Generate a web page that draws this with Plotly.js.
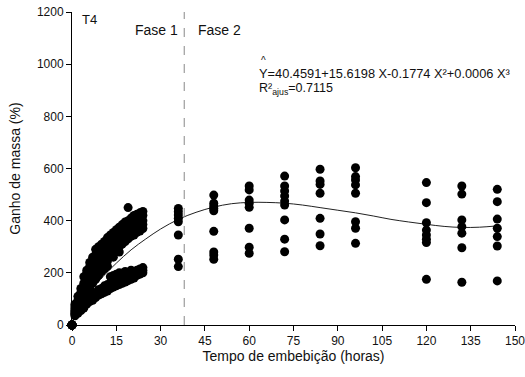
<!DOCTYPE html>
<html>
<head>
<meta charset="utf-8">
<script src="https://cdn.plot.ly/plotly-3.0.1.min.js"></script>
<style>html,body{margin:0;padding:0;background:#fff;}#chart{width:525px;height:377px;}</style>
</head>
<body>
<div id="chart"></div>
<script>
// Phase 1 observation times (hours) and gains (%), 8 readings per time
const phase1Times = [0,1,2,3,4,5,6,7,8,9,10,11,12,13,14,15,16,17,18,19,20,21,22,23,24];
const phase1Values = [
  [0,0,0,0,0,0,0,0],
  [45,62,70,55,80,35,40,50],
  [65,95,88,110,75,45,58,70],
  [100,125,90,140,115,55,70,85],
  [120,160,135,185,145,65,90,100],
  [155,200,175,140,210,80,95,115],
  [170,210,240,190,225,90,110,140],
  [200,260,215,245,180,95,120,160],
  [220,270,195,250,290,105,125,175],
  [210,265,300,240,285,115,135,190],
  [235,310,270,255,295,120,140,205],
  [250,320,290,265,305,125,150,215],
  [260,300,335,280,245,130,155,225],
  [270,345,310,290,325,140,160,185],
  [280,355,300,330,260,145,165,190],
  [290,365,320,340,305,150,170,195],
  [300,375,330,350,280,155,180,200],
  [310,385,355,340,370,160,185,170],
  [320,395,360,345,380,165,190,205],
  [330,450,370,400,355,170,195,185],
  [340,410,375,360,390,175,200,210],
  [345,420,385,365,400,180,205,195],
  [355,425,390,375,410,190,210,200],
  [360,430,395,380,415,195,215,205],
  [370,435,400,385,420,200,220,210]
];
// Phase 2 observation times and gains
const phase2Times = [36,48,60,72,84,96,120,132,144];
const phase2Values = [
  [447,434,422,409,396,345,252,224],
  [498,467,456,447,438,359,280,268,252],
  [533,518,479,467,451,371,298,275],
  [571,533,514,495,475,460,403,329,281],
  [597,552,539,505,409,349,304],
  [603,569,556,537,505,396,371,313],
  [546,469,392,364,345,329,316,175],
  [533,502,403,377,352,296,164],
  [520,473,406,371,339,303,169]
];
// Fitted curve
const fitX = [0,5,10,15,20,25,30,36,42,48,54,60,66,72,78,84,90,96,102,108,114,120,126,132,138,144];
const fitY = [40,115,180,237,288,330,368,405,432,452,465,470,470,467,460,450,440,430,418,405,395,386,378,374,375,380];
const phaseBoundary = 38;
const equationText = "Y=40.4591+15.6198 X-0.1774 X²+0.0006 X³";
const r2Text = "R²<sub>ajus</sub>=0.7115";
const xTicks = [0,15,30,45,60,75,90,105,120,135,150];
const yTicks = [0,200,400,600,800,1000,1200];

const px = [], py = [];
phase1Times.forEach((t, i) => phase1Values[i].forEach(v => { px.push(t); py.push(v); }));
phase2Times.forEach((t, i) => phase2Values[i].forEach(v => { px.push(t); py.push(v); }));

const font = {family: "Liberation Sans, Arial, sans-serif", color: "#111"};

const data = [
  {x: fitX, y: fitY, type: "scatter", mode: "lines", line: {color: "#222", width: 1, shape: "spline"}, hoverinfo: "skip"},
  {x: px, y: py, type: "scatter", mode: "markers", marker: {color: "#000", size: 9}, cliponaxis: false}
];

const layout = {
  width: 525, height: 377,
  margin: {l: 72, r: 10, t: 12, b: 52},
  paper_bgcolor: "#fff", plot_bgcolor: "#fff",
  showlegend: false,
  font: Object.assign({size: 12}, font),
  xaxis: {
    range: [0, 150], tickvals: xTicks, ticktext: xTicks.map(String),
    showgrid: false, zeroline: false, showline: true, linecolor: "#000", linewidth: 1,
    ticks: "outside", ticklen: 5, tickcolor: "#000", tickfont: Object.assign({size: 12}, font),
    ticklabeloverflow: "allow",
    title: {text: "Tempo de embebição (horas)", font: Object.assign({size: 14}, font), standoff: 2}
  },
  yaxis: {
    range: [0, 1200], tickvals: yTicks, ticktext: yTicks.map(String),
    showgrid: false, zeroline: false, showline: true, linecolor: "#000", linewidth: 1,
    ticks: "outside", ticklen: 5, tickcolor: "#000", tickfont: Object.assign({size: 12}, font),
    title: {text: "Ganho de massa (%)", font: Object.assign({size: 14}, font), standoff: 12}
  },
  shapes: [
    {type: "line", xref: "x", yref: "paper", x0: phaseBoundary, x1: phaseBoundary, y0: 0, y1: 1,
     line: {color: "#888", width: 1, dash: "dash"}}
  ],
  annotations: [
    {x: 2.7, y: 1170, xref: "x", yref: "y", text: "T4", showarrow: false, xanchor: "left", yanchor: "middle", font: Object.assign({size: 13}, font)},
    {x: 36.5, y: 1132, xref: "x", yref: "y", text: "Fase 1", showarrow: false, xanchor: "right", yanchor: "middle", font: Object.assign({size: 14}, font)},
    {x: 42, y: 1132, xref: "x", yref: "y", text: "Fase 2", showarrow: false, xanchor: "left", yanchor: "middle", font: Object.assign({size: 14}, font)},
    {x: 63.2, y: 1014, xref: "x", yref: "y", text: "^", showarrow: false, xanchor: "left", yanchor: "middle", font: Object.assign({size: 10}, font)},
    {x: 62.6, y: 966, xref: "x", yref: "y", text: equationText, showarrow: false, xanchor: "left", yanchor: "middle", font: Object.assign({size: 12.8}, font)},
    {x: 62.6, y: 906, xref: "x", yref: "y", text: r2Text, showarrow: false, xanchor: "left", yanchor: "middle", font: Object.assign({size: 12.5}, font)}
  ]
};

Plotly.newPlot("chart", data, layout, {displayModeBar: false, staticPlot: true});
</script>
</body>
</html>
